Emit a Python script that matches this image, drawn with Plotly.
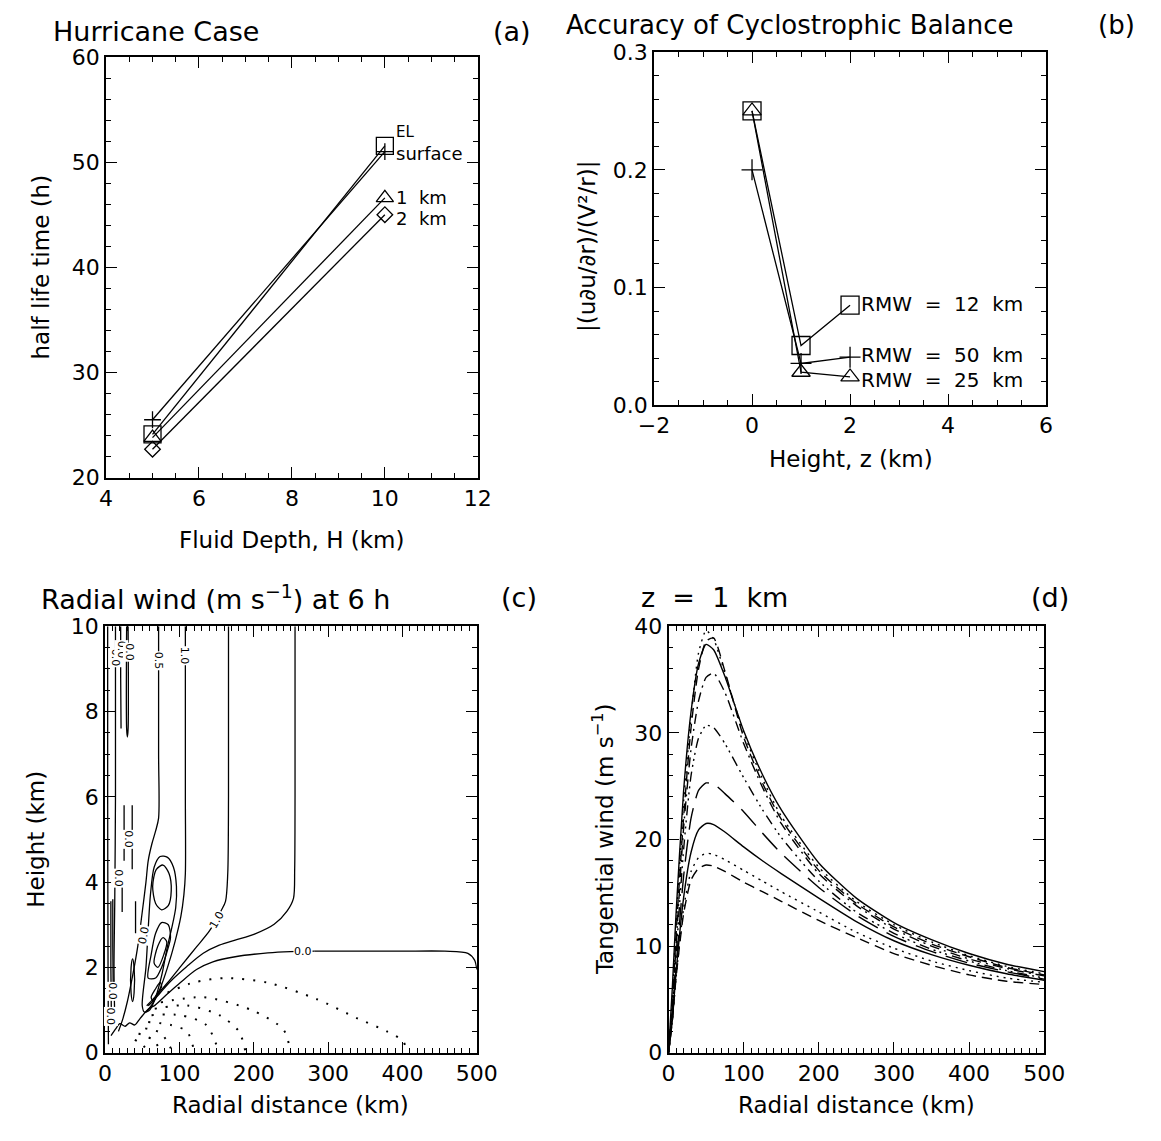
import plotly.graph_objects as go

FONT = "DejaVu Sans"
BLK = "black"

# ---------------- Panel (a): half life time vs fluid depth ----------------
fluid_depth_H = [5, 10]
half_life_EL = [24.1, 51.55]
half_life_surface = [25.5, 51.0]
half_life_1km = [23.8, 46.6]
half_life_2km = [22.7, 45.0]
labels_a = ["EL", "surface", "1\u00a0\u00a0km", "2\u00a0\u00a0km"]

# ---------------- Panel (b): accuracy of cyclostrophic balance ----------------
height_z = [0, 1, 2]
ratio_rmw12 = [0.25, 0.0507, 0.085]
ratio_rmw50 = [0.20, 0.0355, 0.0408]
ratio_rmw25 = [0.25, 0.028, 0.024]
labels_b = ["RMW\u00a0\u00a0=\u00a0\u00a012\u00a0\u00a0km",
            "RMW\u00a0\u00a0=\u00a0\u00a050\u00a0\u00a0km",
            "RMW\u00a0\u00a0=\u00a0\u00a025\u00a0\u00a0km"]

# ---------------- Panel (c): radial wind contours at 6 h (traced lines, r km / z km) ----------------
c_outer_r = [255.5, 255.5, 255, 253.4, 244.7, 227.4, 201, 175, 153.6, 132, 110, 88.5, 74, 64, 58]
c_outer_z = [10, 6, 4.3, 3.62, 3.32, 3.01, 2.78, 2.64, 2.52, 2.33, 2.02, 1.68, 1.40, 1.2, 1.1]
c_one_r = [166, 166, 165, 162, 155.8, 140.6, 123, 101.5, 84, 68, 56]
c_one_z = [10, 6, 4.2, 3.55, 3.32, 2.86, 2.48, 2.02, 1.64, 1.32, 1.1]
c_one_top_r = [108, 108, 108, 106, 102, 94, 84, 74, 64, 55]
c_one_top_z = [10, 6, 4.2, 3.7, 3.2, 2.6, 2.0, 1.5, 1.15, 0.95]
c_half_r = [72, 72, 72, 68, 63, 58, 55, 50, 44, 37, 30, 24, 18]
c_half_z = [10, 7, 5.5, 5.2, 4.9, 4.5, 4.0, 3.3, 2.5, 1.8, 1.2, 0.8, 0.5]
c_zero_far_r = [500, 497, 488, 457, 400, 340, 282]
c_zero_far_z = [1.95, 2.17, 2.33, 2.38, 2.38, 2.38, 2.38]
c_zero_near_r = [282, 249, 219, 175, 145, 123, 101, 84, 67, 58, 47, 40, 33, 27, 20, 14, 8]
c_zero_near_z = [2.38, 2.37, 2.34, 2.25, 2.13, 1.95, 1.64, 1.38, 1.11, 1.02, 0.8, 0.65, 0.7, 0.62, 0.68, 0.55, 0.4]
lobe1_r = [50, 55, 58, 61, 66, 74, 84, 92, 96, 95, 90, 84, 76, 68, 60, 53, 50]
lobe1_z = [1.1, 2.0, 2.9, 3.7, 4.35, 4.6, 4.58, 4.35, 3.9, 3.4, 2.95, 2.5, 1.8, 1.3, 1.0, 0.95, 1.1]
lobe2_r = [64, 69, 78, 86, 89, 85, 76, 68, 64]
lobe2_z = [3.9, 4.3, 4.4, 4.2, 3.8, 3.45, 3.35, 3.5, 3.9]
lobe3_r = [58, 62, 68, 76, 85, 88, 83, 76, 68, 58]
lobe3_z = [1.75, 2.3, 2.8, 3.05, 3.0, 2.7, 2.35, 2.0, 1.75, 1.75]
lobe4_r = [66, 71, 78, 83, 79, 71, 66]
lobe4_z = [2.1, 2.5, 2.7, 2.6, 2.3, 2.0, 2.1]
lobe5_r = [62, 68, 74, 76, 70, 64, 62]
lobe5_z = [1.3, 1.5, 1.65, 1.55, 1.38, 1.22, 1.3]
lobe6_r = [35, 35, 37, 39, 39, 37, 35]
lobe6_z = [1.4, 2.0, 2.2, 2.0, 1.4, 1.2, 1.4]
vert_a_r = [3.5, 3.5, 4, 4.5]
vert_a_z = [10, 6, 2, 0.2]
vert_b_r = [14, 14, 13, 12, 13]
vert_b_z = [10, 6, 3.5, 2, 0.8]
vert_c_r = [21, 21, 21.5]
vert_c_z = [10, 8.8, 7.6]
vert_d_r = [29, 29, 30, 31, 31]
vert_d_z = [10, 7.6, 7.4, 7.6, 10]
vert_e_r = [7.8, 7.8, 8.5]
vert_e_z = [3.55, 2.0, 0.88]
seg_a_r = [25.6, 25.6]
seg_a_z = [5.8, 4.5]
seg_b_r = [36.5, 36.5]
seg_b_z = [5.8, 4.3]
seg_c_r = [23, 23]
seg_c_z = [4.3, 3.3]
seg_d_r = [10.4, 10.4, 11]
seg_d_z = [3.6, 2.5, 1.4]
seg_e_r = [41, 41]
seg_e_z = [3.55, 2.8]
neg1_r = [84, 120, 162, 219, 284, 340, 379, 401, 405]
neg1_z = [1.41, 1.65, 1.75, 1.64, 1.26, 0.8, 0.5, 0.27, 0.05]
neg2_r = [75, 132, 197, 240, 249]
neg2_z = [1.18, 1.3, 1.0, 0.54, 0.05]
neg3_r = [66.8, 110, 153.6, 180, 188.5]
neg3_z = [1.03, 1.11, 0.88, 0.5, 0.05]
neg4_r = [62.5, 101.5, 136, 151.5]
neg4_z = [0.88, 0.88, 0.65, 0.1]
neg5_r = [58, 88.5, 110, 119]
neg5_z = [0.72, 0.65, 0.5, 0.1]
neg6_r = [54, 75, 88.5]
neg6_z = [0.57, 0.46, 0.1]
neg7_r = [45, 55, 65, 72]
neg7_z = [0.45, 0.38, 0.3, 0.12]
neg8_r = [40, 48, 56]
neg8_z = [0.3, 0.22, 0.08]

# ---------------- Panel (d): tangential wind at z = 1 km ----------------
radius_km = [0, 5, 10, 20, 30, 40, 50, 60, 75, 100, 125, 150, 200, 250, 300, 350, 400, 450, 500]
vt_0 = [0, 6, 13, 24.5, 32, 36.5, 38.3, 37.8, 35.3, 30.2, 26.1, 22.8, 17.8, 14.5, 12.2, 10.6, 9.3, 8.3, 7.6]
vt_1 = [0, 5, 12, 23.5, 31.5, 37.5, 39.6, 38.8, 35.6, 30.0, 25.7, 22.2, 17.4, 14.2, 12.0, 10.4, 9.1, 8.1, 7.4]
vt_2 = [0, 4, 11, 22, 30.5, 36, 38.6, 38.9, 35.8, 29.6, 25.3, 21.9, 17.1, 14.0, 11.8, 10.2, 9.0, 8.0, 7.3]
vt_3 = [0, 4, 10, 21, 28.5, 33, 35.2, 35.6, 33.8, 29.0, 24.9, 21.5, 16.8, 13.8, 11.6, 10.0, 8.8, 7.9, 7.2]
vt_4 = [0, 3.5, 9, 19, 26, 29.5, 30.7, 30.5, 29.0, 25.8, 22.8, 20.2, 16.1, 13.2, 11.2, 9.7, 8.6, 7.7, 7.0]
vt_5 = [0, 3, 8, 16.5, 22, 24.6, 25.3, 25.2, 24.3, 22.6, 20.6, 18.7, 15.5, 12.9, 10.9, 9.5, 8.4, 7.6, 6.9]
vt_6 = [0, 3, 7.5, 14.5, 18.8, 20.9, 21.5, 21.4, 20.7, 19.3, 18.0, 16.8, 14.5, 12.3, 10.5, 9.2, 8.2, 7.4, 6.8]
vt_7 = [0, 3, 7, 13.5, 17, 18.3, 18.7, 18.6, 18.1, 17.1, 16.1, 15.1, 13.2, 11.3, 9.8, 8.6, 7.7, 7.0, 6.6]
vt_8 = [0, 3, 7, 13, 16.2, 17.3, 17.6, 17.5, 17.0, 16.0, 15.1, 14.2, 12.4, 10.8, 9.3, 8.2, 7.3, 6.7, 6.4]

# ---------------------------------------------------------------------------
W, H = 1161, 1141


def px(x0, x1):
    return [x0 / W, x1 / W]


def py(top, bottom):
    return [1 - bottom / H, 1 - top / H]


def axis(domain, rng, dtick, minor, anchor, tickformat=None):
    d = dict(domain=domain, range=rng, dtick=dtick, tick0=0, anchor=anchor,
             ticks="inside", ticklen=11, tickwidth=1.2, tickcolor=BLK,
             showline=True, linecolor=BLK, linewidth=1.6, mirror="allticks",
             showgrid=False, zeroline=False,
             tickfont=dict(family=FONT, size=22, color=BLK),
             minor=dict(dtick=minor, ticks="inside", ticklen=5, tickwidth=1,
                        tickcolor=BLK, showgrid=False))
    if tickformat:
        d["tickformat"] = tickformat
    return d


fig = go.Figure()
LW = 1.3

# ---- (a)
series_a = [
    (half_life_EL, "square-open", 17),
    (half_life_surface, "cross-thin", 12),
    (half_life_1km, "triangle-up-open", 15),
    (half_life_2km, "diamond-open", 12),
]
for vals, sym, size in series_a:
    fig.add_trace(go.Scatter(x=fluid_depth_H, y=vals, xaxis="x", yaxis="y", mode="lines+markers",
                             line=dict(color=BLK, width=LW),
                             marker=dict(symbol=sym, size=size, color=BLK,
                                         line=dict(color=BLK, width=1.3))))
label_a_dy = [1.35, -0.15, 0.0, -0.4]
label_a_vals = [half_life_EL, half_life_surface, half_life_1km, half_life_2km]
label_a_size = [15, 18, 18, 18]
annotations = []
for txt, vals, dy, fs in zip(labels_a, label_a_vals, label_a_dy, label_a_size):
    annotations.append(dict(x=fluid_depth_H[-1] + 0.2, y=vals[-1] + dy, xref="x", yref="y", text=txt,
                            showarrow=False, xanchor="left", yanchor="middle",
                            font=dict(family=FONT, size=fs, color=BLK)))

# ---- (b)
series_b = [
    (ratio_rmw12, "square-open", 18),
    (ratio_rmw50, "cross-thin", 15),
    (ratio_rmw25, "triangle-up-open", 16),
]
for vals, sym, size in series_b:
    fig.add_trace(go.Scatter(x=height_z, y=vals, xaxis="x2", yaxis="y2", mode="lines+markers",
                             line=dict(color=BLK, width=LW),
                             marker=dict(symbol=sym, size=size, color=BLK,
                                         line=dict(color=BLK, width=1.3))))
label_b_dy = [0.001, 0.002, -0.003]
for txt, vals, dy in zip(labels_b, [ratio_rmw12, ratio_rmw50, ratio_rmw25], label_b_dy):
    annotations.append(dict(x=height_z[-1] + 0.18, y=vals[-1] + dy, xref="x2", yref="y2", text=txt,
                            showarrow=False, xanchor="left", yanchor="middle",
                            font=dict(family=FONT, size=20, color=BLK)))

# ---- (c)
solid_c = [
    (c_outer_r, c_outer_z), (c_one_r, c_one_z), (c_one_top_r, c_one_top_z), (c_half_r, c_half_z),
    (c_zero_far_r, c_zero_far_z), (c_zero_near_r, c_zero_near_z),
    (lobe1_r, lobe1_z), (lobe2_r, lobe2_z), (lobe3_r, lobe3_z), (lobe4_r, lobe4_z),
    (lobe5_r, lobe5_z), (lobe6_r, lobe6_z),
    (vert_a_r, vert_a_z), (vert_b_r, vert_b_z), (vert_c_r, vert_c_z), (vert_d_r, vert_d_z),
    (vert_e_r, vert_e_z), (seg_a_r, seg_a_z), (seg_b_r, seg_b_z), (seg_c_r, seg_c_z),
    (seg_d_r, seg_d_z), (seg_e_r, seg_e_z),
]
for rr, zz in solid_c:
    fig.add_trace(go.Scatter(x=rr, y=zz, xaxis="x3", yaxis="y3", mode="lines",
                             line=dict(color=BLK, width=1.3, shape="spline", smoothing=0.8)))
dotted_c = [(neg1_r, neg1_z), (neg2_r, neg2_z), (neg3_r, neg3_z), (neg4_r, neg4_z),
            (neg5_r, neg5_z), (neg6_r, neg6_z), (neg7_r, neg7_z), (neg8_r, neg8_z)]
for rr, zz in dotted_c:
    fig.add_trace(go.Scatter(x=rr, y=zz, xaxis="x3", yaxis="y3", mode="lines",
                             line=dict(color=BLK, width=2, dash="2px,9px", shape="spline", smoothing=0.8)))

c_labels = [
    ("0.5", 72, 9.2, 90), ("1.0", 108, 9.3, 90), ("0.0", 14, 9.25, 90), ("0.0", 21.5, 9.45, 90),
    ("0.0", 33, 9.4, 90), ("0.0", 31, 5.0, 90), ("0.0", 17, 4.1, 90), ("0.0", 10, 1.45, 90),
    ("0.0", 8, 0.85, 90), ("1.0", 151, 3.12, -60), ("0.0", 52, 2.75, -78), ("0.0", 266, 2.38, 0),
]
for txt, xx, yy, ang in c_labels:
    annotations.append(dict(x=xx, y=yy, xref="x3", yref="y3", text=txt, showarrow=False,
                            textangle=ang, bgcolor="white", borderpad=0,
                            font=dict(family=FONT, size=11, color=BLK)))

# ---- (d)
styles_d = ["solid", "2px,5px", "10px,6px", "10px,5px,2px,5px",
            "10px,5px,2px,4px,2px,4px,2px,5px", "22px,10px", "solid", "2px,5px", "10px,6px"]
for vals, dash in zip([vt_0, vt_1, vt_2, vt_3, vt_4, vt_5, vt_6, vt_7, vt_8], styles_d):
    fig.add_trace(go.Scatter(x=radius_km, y=vals, xaxis="x4", yaxis="y4", mode="lines",
                             line=dict(color=BLK, width=1.4, dash=dash, shape="spline", smoothing=0.6)))


# ---- titles and axis titles (paper positions in pixels)
def text_at(text, x, y, anchor="left", size=27, angle=0):
    annotations.append(dict(x=x / W, y=1 - y / H, xref="paper", yref="paper", text=text,
                            showarrow=False, xanchor=anchor, yanchor="middle", textangle=angle,
                            font=dict(family=FONT, size=size, color=BLK)))


text_at("Hurricane\u00a0Case", 36, 20)
text_at("(a)", 512, 20, "center")
text_at("Accuracy of Cyclostrophic Balance", 566, 13, size=26)
text_at("(b)", 1137, 13, "center", 26)
text_at("Radial wind (m s<sup>−1</sup>) at 6 h", 24, 599)
text_at("(c)", 520, 599, "center")
text_at("z\u00a0\u00a0=\u00a0\u00a01\u00a0\u00a0km", 643, 599)
text_at("(d)", 1068, 599, "center")

AT = 23
text_at("Fluid Depth, H (km)", 285, 540, "center", AT)
text_at("half life time (h)", 26, 261, "center", AT, -90)
text_at("Height, z (km)", 862, 457, "center", AT)
text_at("|(u∂u/∂r)/(V²/r)|", 590, 240, "center", AT, -90)
text_at("Radial distance (km)", 284, 1117, "center", AT)
text_at("Height (km)", 21, 846, "center", AT, -90)
text_at("Radial distance (km)", 868, 1117, "center", AT)
text_at("Tangential wind (m s<sup>−1</sup>)", 607, 846, "center", AT, -90)

xa = axis(px(93, 477), [4, 12], 2, 0.5, "y")
ya = axis(py(46, 476), [20, 60], 10, 2, "x")
xb = axis(px(659, 1064), [-2, 6], 2, 0.5, "y2")
yb = axis(py(41, 402), [0, 0.3], 0.1, 0.02, "x2", ".1f")
xc = axis(px(92, 476), [0, 500], 100, 10, "y3")
yc = axis(py(628, 1064), [0, 10], 2, 0.5, "x3")
xd = axis(px(674, 1062), [0, 500], 100, 10, "y4")
yd = axis(py(628, 1064), [0, 40], 10, 2, "x4")

fig.update_layout(
    width=W, height=H, margin=dict(l=0, r=0, t=0, b=0),
    paper_bgcolor="white", plot_bgcolor="white", showlegend=False,
    font=dict(family=FONT, color=BLK),
    xaxis=xa, yaxis=ya, xaxis2=xb, yaxis2=yb, xaxis3=xc, yaxis3=yc, xaxis4=xd, yaxis4=yd,
    annotations=annotations,
)

fig.write_html("out.html")
